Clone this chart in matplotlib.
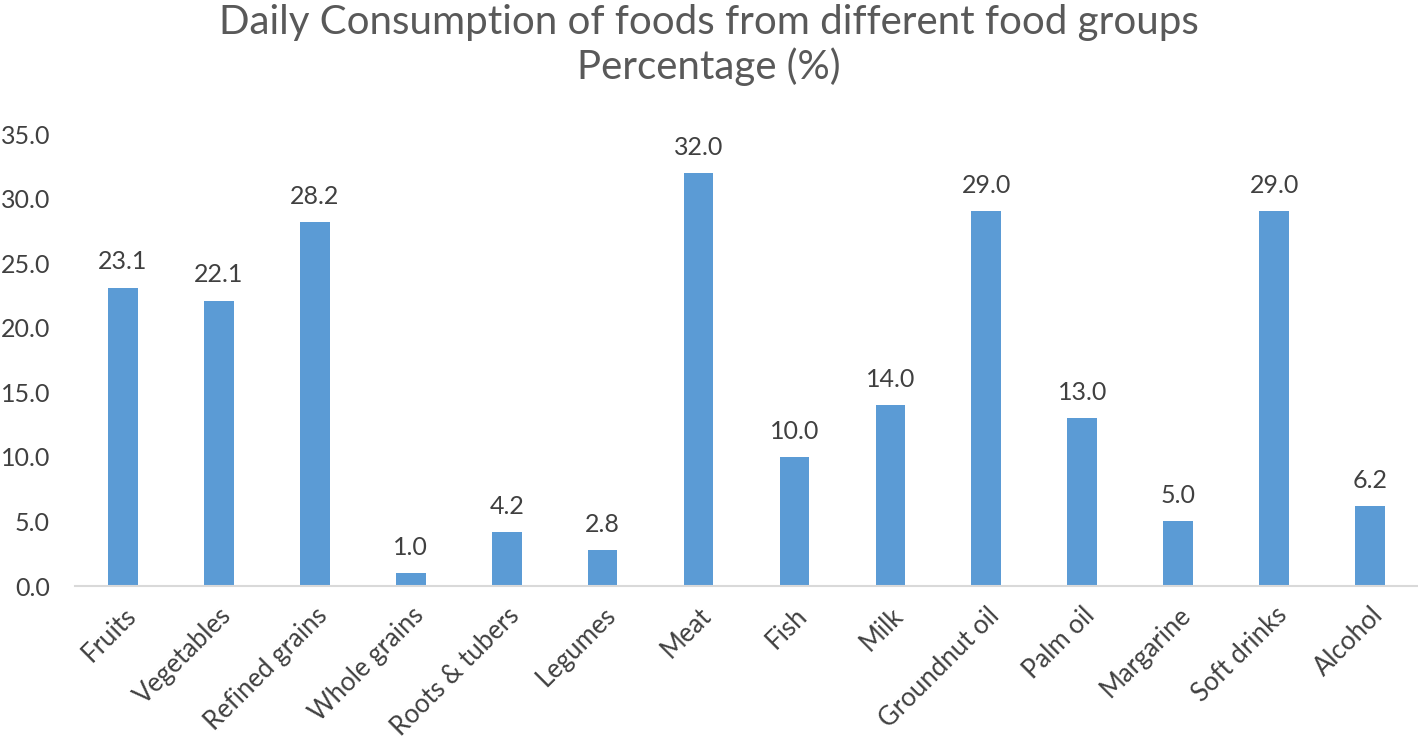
import matplotlib
matplotlib.use("Agg")
import matplotlib.pyplot as plt

categories = ["Fruits", "Vegetables", "Refined grains", "Whole grains", "Roots & tubers",
              "Legumes", "Meat", "Fish", "Milk", "Groundnut oil", "Palm oil",
              "Margarine", "Soft drinks", "Alcohol"]
values = [23.1, 22.1, 28.2, 1.0, 4.2, 2.8, 32.0, 10.0, 14.0, 29.0, 13.0, 5.0, 29.0, 6.2]
yticks = [0, 5, 10, 15, 20, 25, 30, 35]
title = "Daily Consumption of foods from different food groups\nPercentage (%)"

plt.rcParams['font.family'] = ['Lato', 'DejaVu Sans']
txt = "#404040"

fig = plt.figure(figsize=(14.18, 7.44), dpi=100)
ax = fig.add_axes([75/1418, 1-586/744, 1-75/1418, (586-134)/744])
x = list(range(len(categories)))
ax.bar(x, values, width=0.31, color="#5B9BD5", zorder=2)
for xi, v in zip(x, values):
    ax.text(xi, v + 1.1, f"{v:.1f}", ha="center", va="bottom", fontsize=18, color=txt)
ax.set_xlim(-0.5, len(categories) - 0.5)
ax.set_ylim(0, 35)
ax.set_yticks(yticks)
ax.set_yticklabels([f"{t:.1f}" for t in yticks], fontsize=18, color=txt)
ax.set_xticks(x)
ax.set_xticklabels(categories, rotation=45, ha="right", rotation_mode="anchor",
                   fontsize=18.5, color=txt)
ax.tick_params(axis="both", length=0)
ax.tick_params(axis="y", pad=18)
ax.tick_params(axis="x", pad=12)
for s in ["top", "right", "left"]:
    ax.spines[s].set_visible(False)
ax.spines["bottom"].set_color("#D9D9D9")
ax.spines["bottom"].set_linewidth(1.5)
fig.text(0.5, 0.995, title, ha="center", va="top", fontsize=29, color="#595959",
         linespacing=1.2)
fig.savefig("out.png", dpi=100)
